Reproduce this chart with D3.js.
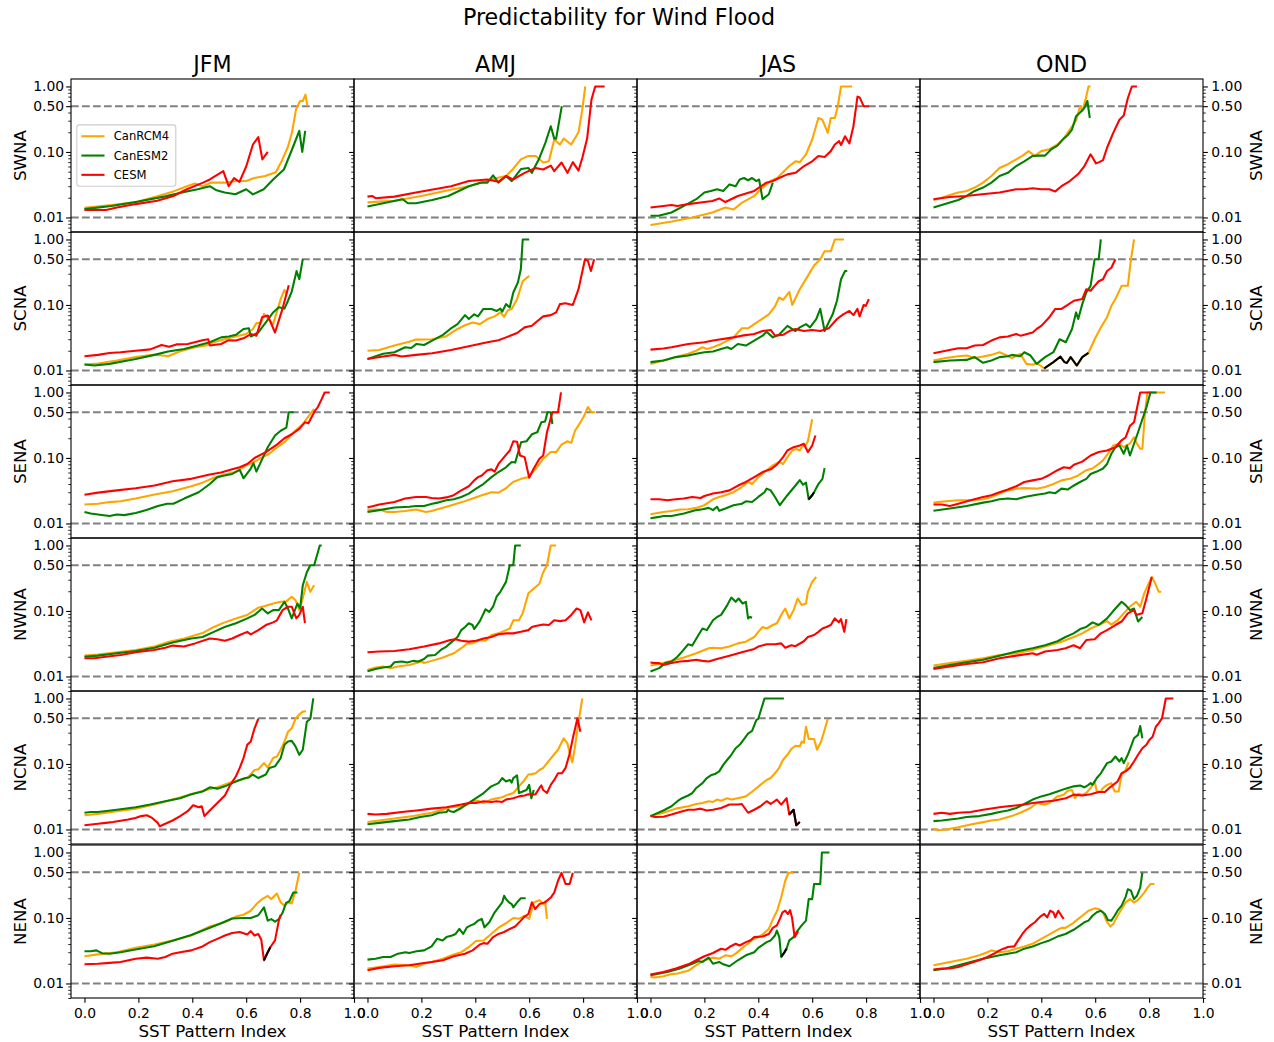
<!DOCTYPE html>
<html lang="en">
<head>
<meta charset="UTF-8">
<title>Predictability for Wind Flood</title>
<script src="https://cdn.jsdelivr.net/npm/d3@7"></script>
<style>
body { margin: 0; background: #fff; }
text { font-family: "DejaVu Sans", sans-serif; fill: #000; }
</style>
</head>
<body>
<svg id="chart" width="1274" height="1042"></svg>
<script>

// ---- labels / ticks ----
const seasons = ["JFM", "AMJ", "JAS", "OND"];
const regions = ["SWNA", "SCNA", "SENA", "NWNA", "NCNA", "NENA"];
const models = ["CanRCM4", "CanESM2", "CESM"];
const modelColors = ["orange", "green", "red"];
const yTicks = [0.01, 0.1, 0.5, 1.0];
const xTicks = [0, 0.2, 0.4, 0.6, 0.8, 1.0];
const refLevels = [0.01, 0.5];

// ---- SWNA ----
const swna_jfm_rcm4 = [[0,0.014],[0.1,0.0155],[0.19,0.017],[0.27,0.021],[0.33,0.025],[0.38,0.030],[0.41,0.033],[0.44,0.030],[0.47,0.034],[0.52,0.034],[0.56,0.036],[0.60,0.036],[0.63,0.040],[0.67,0.043],[0.71,0.049],[0.73,0.07],[0.755,0.12],[0.77,0.2],[0.785,0.45],[0.80,0.6],[0.81,0.6],[0.82,0.75],[0.827,0.5]];
const swna_jfm_esm2 = [[0,0.0134],[0.1,0.0150],[0.2,0.0175],[0.3,0.021],[0.37,0.0245],[0.42,0.027],[0.465,0.030],[0.49,0.026],[0.52,0.024],[0.56,0.0226],[0.6,0.027],[0.625,0.0225],[0.665,0.027],[0.70,0.038],[0.74,0.054],[0.77,0.109],[0.797,0.21],[0.808,0.10],[0.819,0.21]];
const swna_jfm_cesm = [[0,0.013],[0.08,0.013],[0.12,0.0142],[0.19,0.016],[0.27,0.018],[0.33,0.0213],[0.38,0.027],[0.44,0.034],[0.465,0.038],[0.515,0.051],[0.535,0.030],[0.555,0.040],[0.575,0.035],[0.60,0.06],[0.625,0.13],[0.645,0.168],[0.66,0.077],[0.68,0.1]];

const swna_amj_rcm4 = [[0,0.017],[0.1,0.018],[0.2,0.0213],[0.3,0.026],[0.376,0.030],[0.43,0.035],[0.48,0.040],[0.514,0.043],[0.54,0.055],[0.569,0.077],[0.597,0.087],[0.624,0.087],[0.652,0.069],[0.673,0.072],[0.693,0.155],[0.714,0.13],[0.728,0.16],[0.756,0.13],[0.783,0.2],[0.797,0.44],[0.808,1.0]];
const swna_amj_esm2 = [[0,0.0147],[0.13,0.019],[0.15,0.0165],[0.18,0.0165],[0.24,0.0185],[0.3,0.0213],[0.376,0.030],[0.42,0.034],[0.445,0.034],[0.466,0.044],[0.486,0.034],[0.514,0.043],[0.535,0.036],[0.57,0.055],[0.597,0.057],[0.61,0.048],[0.638,0.081],[0.66,0.138],[0.68,0.247],[0.693,0.16],[0.70,0.16],[0.721,0.5]];
const swna_amj_cesm = [[0,0.0208],[0.017,0.0213],[0.03,0.0197],[0.1,0.0208],[0.18,0.024],[0.31,0.030],[0.376,0.036],[0.445,0.038],[0.486,0.035],[0.514,0.043],[0.54,0.038],[0.583,0.048],[0.624,0.057],[0.652,0.054],[0.68,0.062],[0.693,0.051],[0.72,0.069],[0.742,0.048],[0.762,0.07],[0.783,0.052],[0.797,0.081],[0.815,0.16],[0.831,0.63],[0.845,1.0],[0.88,1.0]];

const swna_jas_rcm4 = [[0,0.0077],[0.08,0.0087],[0.155,0.01],[0.23,0.0119],[0.278,0.0142],[0.308,0.0132],[0.34,0.0169],[0.385,0.0213],[0.416,0.0286],[0.446,0.036],[0.47,0.040],[0.49,0.048],[0.515,0.061],[0.538,0.072],[0.554,0.07],[0.577,0.092],[0.60,0.155],[0.623,0.33],[0.638,0.31],[0.658,0.196],[0.669,0.33],[0.684,0.33],[0.695,0.5],[0.707,1.0],[0.748,1.0]];
const swna_jas_esm2 = [[0,0.0106],[0.03,0.0106],[0.078,0.0119],[0.124,0.015],[0.17,0.019],[0.2,0.024],[0.224,0.0254],[0.247,0.027],[0.27,0.0254],[0.293,0.032],[0.316,0.030],[0.331,0.038],[0.347,0.040],[0.362,0.037],[0.377,0.040],[0.393,0.036],[0.403,0.038],[0.416,0.019],[0.439,0.0226],[0.454,0.034]];
const swna_jas_cesm = [[0,0.0142],[0.048,0.015],[0.078,0.0155],[0.10,0.015],[0.14,0.016],[0.2,0.0172],[0.23,0.0179],[0.255,0.0195],[0.278,0.0172],[0.324,0.0213],[0.385,0.0254],[0.43,0.034],[0.454,0.036],[0.477,0.040],[0.508,0.0455],[0.538,0.048],[0.57,0.061],[0.60,0.072],[0.623,0.087],[0.646,0.084],[0.669,0.103],[0.684,0.13],[0.70,0.146],[0.707,0.128],[0.722,0.174],[0.738,0.135],[0.753,0.247],[0.768,0.70],[0.776,0.68],[0.791,0.5],[0.811,0.5]];

const swna_ond_rcm4 = [[0,0.0185],[0.031,0.020],[0.061,0.022],[0.092,0.024],[0.123,0.0254],[0.153,0.0286],[0.184,0.034],[0.215,0.043],[0.245,0.057],[0.276,0.065],[0.307,0.077],[0.33,0.087],[0.353,0.103],[0.376,0.087],[0.40,0.103],[0.43,0.11],[0.46,0.13],[0.483,0.16],[0.506,0.22],[0.529,0.30],[0.544,0.5],[0.552,0.42],[0.567,0.7],[0.575,1.0],[0.583,1.0]];
const swna_ond_esm2 = [[0,0.0142],[0.061,0.0169],[0.092,0.0185],[0.123,0.0213],[0.153,0.0254],[0.184,0.0286],[0.215,0.034],[0.245,0.043],[0.276,0.048],[0.307,0.061],[0.337,0.072],[0.368,0.087],[0.39,0.088],[0.414,0.088],[0.437,0.11],[0.46,0.125],[0.483,0.16],[0.498,0.18],[0.514,0.22],[0.529,0.35],[0.544,0.40],[0.56,0.47],[0.571,0.6],[0.58,0.33]];
const swna_ond_cesm = [[0,0.019],[0.06,0.0205],[0.12,0.0213],[0.18,0.0226],[0.245,0.024],[0.307,0.027],[0.337,0.027],[0.368,0.028],[0.40,0.027],[0.43,0.027],[0.452,0.025],[0.475,0.030],[0.506,0.036],[0.537,0.046],[0.56,0.061],[0.583,0.092],[0.603,0.067],[0.615,0.070],[0.629,0.075],[0.644,0.116],[0.667,0.196],[0.69,0.31],[0.706,0.36],[0.721,0.66],[0.736,1.0],[0.755,1.0]];

// ---- SCNA ----
const scna_jfm_rcm4 = [[0,0.0123],[0.05,0.0128],[0.12,0.0142],[0.19,0.016],[0.26,0.0175],[0.31,0.0165],[0.355,0.0197],[0.41,0.0226],[0.45,0.024],[0.48,0.027],[0.52,0.030],[0.56,0.033],[0.60,0.036],[0.625,0.043],[0.638,0.053],[0.655,0.053],[0.666,0.073],[0.70,0.051],[0.728,0.123],[0.742,0.17],[0.75,0.146]];
const scna_jfm_esm2 = [[0,0.0123],[0.037,0.0119],[0.093,0.0126],[0.19,0.015],[0.26,0.0173],[0.31,0.0195],[0.37,0.0213],[0.42,0.024],[0.465,0.027],[0.507,0.032],[0.535,0.033],[0.562,0.035],[0.59,0.043],[0.61,0.044],[0.617,0.033],[0.645,0.038],[0.673,0.054],[0.70,0.077],[0.721,0.092],[0.742,0.088],[0.755,0.116],[0.769,0.16],[0.787,0.33],[0.797,0.247],[0.81,0.5]];
const scna_jfm_cesm = [[0,0.0165],[0.05,0.0173],[0.093,0.0185],[0.134,0.019],[0.19,0.020],[0.244,0.021],[0.286,0.0245],[0.314,0.023],[0.341,0.025],[0.383,0.0254],[0.438,0.029],[0.459,0.030],[0.465,0.024],[0.507,0.0254],[0.535,0.029],[0.562,0.0286],[0.59,0.031],[0.617,0.036],[0.638,0.034],[0.659,0.065],[0.68,0.069],[0.707,0.038],[0.735,0.088],[0.758,0.2]];

const scna_amj_rcm4 = [[0,0.020],[0.044,0.0205],[0.1,0.024],[0.155,0.0275],[0.18,0.0296],[0.24,0.030],[0.29,0.033],[0.334,0.043],[0.362,0.049],[0.39,0.054],[0.417,0.051],[0.445,0.061],[0.472,0.067],[0.493,0.077],[0.507,0.066],[0.521,0.083],[0.535,0.087],[0.555,0.123],[0.576,0.23],[0.60,0.278]];
const scna_amj_esm2 = [[0,0.015],[0.058,0.018],[0.1,0.019],[0.14,0.0226],[0.162,0.022],[0.182,0.0254],[0.21,0.0245],[0.24,0.0286],[0.28,0.035],[0.307,0.043],[0.334,0.051],[0.362,0.070],[0.376,0.061],[0.396,0.072],[0.41,0.067],[0.43,0.087],[0.46,0.087],[0.48,0.081],[0.493,0.088],[0.50,0.079],[0.514,0.103],[0.528,0.092],[0.541,0.155],[0.558,0.22],[0.569,0.35],[0.576,1.0],[0.60,1.0]];
const scna_amj_cesm = [[0,0.015],[0.058,0.0163],[0.1,0.0173],[0.127,0.0163],[0.18,0.0173],[0.24,0.0183],[0.31,0.0206],[0.376,0.0234],[0.445,0.027],[0.486,0.029],[0.514,0.032],[0.555,0.0373],[0.583,0.0455],[0.61,0.048],[0.624,0.054],[0.652,0.067],[0.68,0.07],[0.70,0.077],[0.714,0.103],[0.735,0.106],[0.762,0.10],[0.783,0.174],[0.807,0.5],[0.818,0.47],[0.829,0.33],[0.841,0.5]];

const scna_jas_rcm4 = [[0,0.0126],[0.048,0.0142],[0.094,0.016],[0.14,0.018],[0.17,0.020],[0.193,0.0226],[0.209,0.0213],[0.232,0.0226],[0.262,0.0254],[0.308,0.032],[0.339,0.044],[0.362,0.044],[0.385,0.051],[0.416,0.062],[0.439,0.072],[0.462,0.095],[0.477,0.13],[0.492,0.12],[0.515,0.159],[0.526,0.10],[0.554,0.174],[0.584,0.278],[0.607,0.40],[0.63,0.5],[0.646,0.66],[0.669,0.66],[0.684,1.0],[0.718,1.0]];
const scna_jas_esm2 = [[0,0.0134],[0.048,0.0142],[0.094,0.016],[0.14,0.0169],[0.17,0.018],[0.2,0.019],[0.232,0.0195],[0.262,0.0213],[0.285,0.0226],[0.30,0.0213],[0.324,0.0254],[0.354,0.024],[0.385,0.0286],[0.416,0.034],[0.431,0.039],[0.454,0.032],[0.477,0.035],[0.508,0.048],[0.538,0.040],[0.554,0.0455],[0.577,0.051],[0.592,0.0455],[0.615,0.061],[0.63,0.087],[0.646,0.040],[0.661,0.054],[0.676,0.072],[0.692,0.116],[0.707,0.247],[0.722,0.33],[0.73,0.33]];
const scna_jas_cesm = [[0,0.0208],[0.048,0.0216],[0.078,0.0226],[0.14,0.0254],[0.2,0.027],[0.232,0.0286],[0.308,0.032],[0.339,0.034],[0.385,0.036],[0.416,0.040],[0.446,0.0415],[0.462,0.034],[0.492,0.035],[0.515,0.040],[0.538,0.043],[0.569,0.040],[0.60,0.0415],[0.63,0.040],[0.661,0.044],[0.692,0.061],[0.715,0.072],[0.738,0.081],[0.753,0.07],[0.768,0.087],[0.776,0.067],[0.791,0.10],[0.799,0.097],[0.81,0.123]];

const scna_ond_rcm4 = [[0,0.0142],[0.046,0.0155],[0.092,0.0165],[0.123,0.0169],[0.153,0.0155],[0.184,0.0163],[0.215,0.0173],[0.245,0.019],[0.268,0.0173],[0.291,0.0155],[0.322,0.0179],[0.345,0.0126],[0.368,0.0122],[0.383,0.013],[0.40,0.0116],[0.411,0.0108],[0.445,0.0134],[0.471,0.0163],[0.486,0.0134],[0.495,0.013],[0.509,0.016],[0.532,0.0119],[0.552,0.016],[0.575,0.0185],[0.598,0.030],[0.621,0.0455],[0.644,0.065],[0.66,0.097],[0.675,0.123],[0.698,0.196],[0.721,0.196],[0.733,0.5],[0.744,1.0]];
const scna_ond_esm2 = [[0,0.0134],[0.061,0.0142],[0.123,0.0145],[0.153,0.016],[0.184,0.0131],[0.215,0.0142],[0.245,0.016],[0.276,0.0165],[0.291,0.0173],[0.322,0.0165],[0.337,0.019],[0.36,0.0169],[0.383,0.0126],[0.414,0.016],[0.445,0.019],[0.468,0.030],[0.491,0.027],[0.514,0.043],[0.529,0.077],[0.537,0.061],[0.552,0.103],[0.567,0.155],[0.583,0.196],[0.598,0.5],[0.613,0.5],[0.621,1.0]];
const scna_ond_cesm = [[0,0.0183],[0.046,0.020],[0.092,0.0218],[0.123,0.0218],[0.153,0.024],[0.184,0.0245],[0.215,0.0286],[0.245,0.032],[0.276,0.033],[0.307,0.036],[0.322,0.034],[0.337,0.035],[0.368,0.038],[0.383,0.043],[0.40,0.048],[0.43,0.065],[0.452,0.087],[0.475,0.087],[0.498,0.10],[0.521,0.116],[0.552,0.123],[0.567,0.174],[0.583,0.165],[0.598,0.196],[0.613,0.23],[0.629,0.247],[0.644,0.33],[0.66,0.37],[0.675,0.5]];
const scna_ond_black = [[0.411,0.0108],[0.445,0.0134],[0.471,0.0163],[0.486,0.0134],[0.495,0.013],[0.509,0.016],[0.532,0.0119],[0.552,0.016],[0.575,0.0185]];

// ---- SENA ----
const sena_jfm_rcm4 = [[0,0.0195],[0.05,0.020],[0.093,0.0212],[0.134,0.0218],[0.19,0.024],[0.26,0.0276],[0.327,0.031],[0.396,0.037],[0.438,0.042],[0.48,0.050],[0.52,0.056],[0.56,0.061],[0.60,0.077],[0.63,0.087],[0.66,0.103],[0.686,0.116],[0.707,0.138],[0.742,0.174],[0.776,0.247],[0.81,0.33],[0.838,0.47],[0.852,0.56]];
const sena_jfm_esm2 = [[0,0.015],[0.023,0.0142],[0.05,0.0137],[0.093,0.013],[0.12,0.0137],[0.148,0.0134],[0.19,0.0145],[0.23,0.016],[0.272,0.0185],[0.307,0.020],[0.33,0.020],[0.37,0.024],[0.424,0.030],[0.465,0.040],[0.493,0.051],[0.52,0.054],[0.548,0.057],[0.576,0.066],[0.59,0.049],[0.617,0.069],[0.627,0.083],[0.638,0.062],[0.659,0.095],[0.68,0.146],[0.707,0.22],[0.728,0.26],[0.749,0.29],[0.758,0.5],[0.776,0.5]];
const sena_jfm_cesm = [[0,0.0275],[0.05,0.0296],[0.12,0.032],[0.19,0.0345],[0.26,0.038],[0.327,0.044],[0.396,0.048],[0.465,0.056],[0.507,0.060],[0.548,0.067],[0.576,0.072],[0.604,0.081],[0.631,0.10],[0.673,0.123],[0.714,0.16],[0.742,0.20],[0.769,0.23],[0.797,0.278],[0.818,0.35],[0.831,0.34],[0.852,0.5],[0.866,0.6],[0.88,0.79],[0.891,1.0],[0.91,1.0]];

const sena_amj_rcm4 = [[0,0.016],[0.044,0.0163],[0.072,0.015],[0.1,0.015],[0.14,0.0155],[0.18,0.0163],[0.217,0.015],[0.238,0.0155],[0.293,0.018],[0.348,0.021],[0.39,0.024],[0.43,0.0275],[0.46,0.030],[0.486,0.0296],[0.514,0.0345],[0.54,0.043],[0.57,0.048],[0.597,0.051],[0.624,0.069],[0.652,0.097],[0.68,0.123],[0.70,0.123],[0.72,0.16],[0.742,0.18],[0.756,0.17],[0.77,0.26],[0.79,0.35],[0.804,0.44],[0.818,0.6],[0.831,0.5],[0.845,0.5]];
const sena_amj_esm2 = [[0,0.015],[0.044,0.016],[0.1,0.0175],[0.155,0.018],[0.18,0.0185],[0.21,0.0185],[0.24,0.020],[0.265,0.021],[0.293,0.0226],[0.32,0.0234],[0.348,0.0254],[0.376,0.0286],[0.403,0.034],[0.43,0.040],[0.46,0.051],[0.486,0.061],[0.514,0.072],[0.535,0.087],[0.548,0.085],[0.57,0.174],[0.59,0.18],[0.61,0.23],[0.63,0.247],[0.645,0.35],[0.659,0.36],[0.668,0.5],[0.68,0.5],[0.686,0.33]];
const sena_amj_cesm = [[0,0.0175],[0.044,0.0195],[0.1,0.0213],[0.14,0.024],[0.18,0.0254],[0.217,0.0254],[0.238,0.0245],[0.265,0.024],[0.293,0.025],[0.32,0.027],[0.348,0.032],[0.376,0.037],[0.396,0.0455],[0.41,0.051],[0.424,0.054],[0.438,0.061],[0.445,0.065],[0.46,0.067],[0.472,0.062],[0.486,0.081],[0.507,0.103],[0.528,0.13],[0.541,0.18],[0.555,0.177],[0.566,0.109],[0.583,0.103],[0.60,0.05],[0.617,0.069],[0.638,0.097],[0.652,0.109],[0.666,0.247],[0.686,0.5],[0.707,0.5],[0.718,1.0]];

const sena_jas_rcm4 = [[0,0.0138],[0.048,0.015],[0.078,0.0155],[0.11,0.0163],[0.14,0.0165],[0.17,0.0173],[0.2,0.019],[0.232,0.0234],[0.255,0.0254],[0.278,0.027],[0.308,0.030],[0.339,0.036],[0.362,0.043],[0.377,0.040],[0.40,0.051],[0.423,0.061],[0.454,0.077],[0.477,0.087],[0.492,0.081],[0.508,0.103],[0.526,0.13],[0.538,0.138],[0.554,0.13],[0.561,0.146],[0.577,0.16],[0.584,0.18],[0.60,0.39]];
const sena_jas_esm2 = [[0,0.012],[0.032,0.0126],[0.048,0.013],[0.078,0.013],[0.124,0.0142],[0.17,0.016],[0.193,0.0165],[0.216,0.0173],[0.232,0.016],[0.247,0.018],[0.255,0.0156],[0.278,0.0169],[0.308,0.019],[0.339,0.020],[0.354,0.0218],[0.377,0.0213],[0.40,0.0254],[0.423,0.030],[0.431,0.034],[0.446,0.032],[0.462,0.0254],[0.48,0.019],[0.508,0.027],[0.538,0.038],[0.554,0.046],[0.566,0.039],[0.577,0.042],[0.587,0.0234],[0.60,0.027],[0.607,0.030],[0.623,0.040],[0.638,0.048],[0.646,0.07]];
const sena_jas_cesm = [[0,0.0234],[0.032,0.0234],[0.063,0.0226],[0.094,0.0234],[0.124,0.024],[0.155,0.0254],[0.186,0.0245],[0.2,0.0263],[0.232,0.0286],[0.262,0.030],[0.293,0.032],[0.308,0.0346],[0.331,0.039],[0.354,0.043],[0.385,0.051],[0.416,0.061],[0.446,0.067],[0.469,0.079],[0.492,0.103],[0.508,0.13],[0.531,0.146],[0.554,0.155],[0.569,0.165],[0.584,0.123],[0.60,0.155],[0.612,0.22]];
const sena_jas_black = [[0.587,0.0234],[0.60,0.027],[0.607,0.030]];

const sena_ond_rcm4 = [[0,0.0208],[0.046,0.0218],[0.092,0.0226],[0.138,0.0226],[0.184,0.0234],[0.215,0.0254],[0.245,0.0286],[0.276,0.032],[0.307,0.034],[0.337,0.0346],[0.383,0.034],[0.414,0.036],[0.445,0.040],[0.475,0.0455],[0.506,0.048],[0.537,0.054],[0.567,0.065],[0.59,0.069],[0.613,0.081],[0.629,0.092],[0.652,0.123],[0.667,0.155],[0.69,0.165],[0.706,0.146],[0.728,0.165],[0.744,0.206],[0.755,0.165],[0.767,0.138],[0.775,0.138],[0.785,0.5],[0.794,1.0],[0.859,1.0]];
const sena_ond_esm2 = [[0,0.0156],[0.061,0.0169],[0.123,0.0185],[0.184,0.0208],[0.215,0.0218],[0.245,0.0234],[0.276,0.024],[0.307,0.0234],[0.337,0.0254],[0.383,0.0275],[0.414,0.0286],[0.43,0.030],[0.452,0.029],[0.475,0.034],[0.498,0.033],[0.521,0.038],[0.544,0.043],[0.567,0.048],[0.583,0.057],[0.606,0.062],[0.629,0.069],[0.644,0.081],[0.66,0.116],[0.675,0.146],[0.69,0.155],[0.706,0.116],[0.718,0.155],[0.729,0.109],[0.744,0.165],[0.759,0.247],[0.775,0.39],[0.79,0.59],[0.805,1.0],[0.828,1.0]];
const sena_ond_cesm = [[0,0.0195],[0.031,0.0195],[0.061,0.0185],[0.092,0.020],[0.138,0.0226],[0.184,0.0254],[0.215,0.027],[0.245,0.030],[0.276,0.033],[0.307,0.037],[0.337,0.043],[0.368,0.0455],[0.40,0.048],[0.43,0.055],[0.46,0.065],[0.483,0.072],[0.506,0.070],[0.521,0.079],[0.552,0.088],[0.583,0.109],[0.613,0.123],[0.644,0.13],[0.675,0.146],[0.698,0.186],[0.713,0.206],[0.729,0.31],[0.744,0.35],[0.752,0.5],[0.767,1.0],[0.805,1.0]];

// ---- NWNA ----
const nwna_jfm_rcm4 = [[0,0.0208],[0.05,0.0216],[0.12,0.0234],[0.19,0.0254],[0.26,0.0286],[0.314,0.034],[0.37,0.038],[0.438,0.046],[0.48,0.057],[0.52,0.067],[0.562,0.077],[0.604,0.087],[0.645,0.112],[0.673,0.12],[0.70,0.13],[0.728,0.138],[0.749,0.14],[0.769,0.165],[0.783,0.146],[0.797,0.103],[0.808,0.146],[0.825,0.278],[0.838,0.196],[0.852,0.247]];
const nwna_jfm_esm2 = [[0,0.020],[0.05,0.0208],[0.12,0.0226],[0.19,0.0245],[0.26,0.0275],[0.327,0.033],[0.396,0.038],[0.438,0.040],[0.48,0.048],[0.52,0.057],[0.562,0.065],[0.604,0.077],[0.631,0.087],[0.659,0.109],[0.68,0.092],[0.70,0.103],[0.721,0.103],[0.742,0.138],[0.755,0.109],[0.769,0.077],[0.79,0.13],[0.80,0.11],[0.81,0.247],[0.825,0.39],[0.838,0.5],[0.852,0.5],[0.866,0.79],[0.873,1.0],[0.88,1.0]];
const nwna_jfm_cesm = [[0,0.019],[0.037,0.019],[0.079,0.020],[0.134,0.0213],[0.19,0.0234],[0.258,0.0254],[0.30,0.0275],[0.327,0.0296],[0.369,0.0286],[0.41,0.032],[0.465,0.038],[0.493,0.037],[0.521,0.035],[0.548,0.038],[0.576,0.043],[0.604,0.048],[0.617,0.044],[0.645,0.051],[0.673,0.061],[0.70,0.067],[0.714,0.072],[0.735,0.103],[0.755,0.116],[0.769,0.116],[0.786,0.077],[0.797,0.087],[0.81,0.116],[0.818,0.065]];

const nwna_amj_rcm4 = [[0,0.0126],[0.03,0.0137],[0.058,0.0142],[0.086,0.0134],[0.113,0.0142],[0.155,0.015],[0.182,0.016],[0.203,0.0169],[0.21,0.016],[0.238,0.0173],[0.28,0.0195],[0.32,0.0226],[0.348,0.027],[0.37,0.032],[0.39,0.032],[0.417,0.036],[0.438,0.035],[0.46,0.043],[0.486,0.0455],[0.514,0.051],[0.528,0.054],[0.541,0.072],[0.562,0.072],[0.576,0.092],[0.597,0.186],[0.617,0.22],[0.638,0.26],[0.652,0.39],[0.666,0.5],[0.68,1.0],[0.70,1.0]];
const nwna_amj_esm2 = [[0,0.012],[0.03,0.013],[0.058,0.0137],[0.086,0.0142],[0.10,0.0165],[0.127,0.0169],[0.148,0.0163],[0.169,0.0173],[0.189,0.0169],[0.21,0.0185],[0.224,0.0208],[0.251,0.0213],[0.272,0.0254],[0.293,0.0286],[0.314,0.034],[0.334,0.040],[0.348,0.051],[0.362,0.057],[0.376,0.065],[0.39,0.061],[0.396,0.053],[0.417,0.07],[0.438,0.106],[0.452,0.097],[0.466,0.116],[0.479,0.165],[0.493,0.196],[0.514,0.278],[0.528,0.5],[0.541,0.5],[0.548,1.0],[0.569,1.0]];
const nwna_amj_cesm = [[0,0.0234],[0.044,0.024],[0.1,0.0245],[0.155,0.026],[0.21,0.0286],[0.265,0.032],[0.307,0.036],[0.327,0.037],[0.348,0.035],[0.376,0.034],[0.403,0.035],[0.431,0.038],[0.459,0.040],[0.486,0.044],[0.514,0.0455],[0.541,0.0455],[0.569,0.048],[0.597,0.051],[0.61,0.057],[0.624,0.059],[0.652,0.062],[0.673,0.061],[0.693,0.072],[0.714,0.07],[0.735,0.072],[0.756,0.087],[0.776,0.109],[0.79,0.103],[0.804,0.067],[0.818,0.095],[0.831,0.072]];

const nwna_jas_rcm4 = [[0,0.0147],[0.032,0.0155],[0.078,0.0173],[0.124,0.0195],[0.17,0.0226],[0.216,0.027],[0.232,0.0275],[0.262,0.027],[0.293,0.0286],[0.324,0.032],[0.354,0.034],[0.385,0.040],[0.40,0.048],[0.416,0.057],[0.431,0.054],[0.454,0.061],[0.469,0.065],[0.485,0.087],[0.50,0.109],[0.515,0.077],[0.531,0.103],[0.546,0.155],[0.561,0.123],[0.577,0.13],[0.584,0.196],[0.60,0.278],[0.615,0.33]];
const nwna_jas_esm2 = [[0,0.0119],[0.032,0.0134],[0.055,0.016],[0.078,0.0169],[0.10,0.020],[0.117,0.024],[0.14,0.031],[0.155,0.0296],[0.178,0.043],[0.193,0.054],[0.209,0.051],[0.232,0.072],[0.247,0.081],[0.262,0.087],[0.285,0.123],[0.30,0.16],[0.316,0.138],[0.327,0.155],[0.342,0.13],[0.354,0.138],[0.362,0.077],[0.37,0.081],[0.377,0.079]];
const nwna_jas_cesm = [[0,0.0163],[0.017,0.016],[0.032,0.016],[0.048,0.015],[0.078,0.016],[0.109,0.0169],[0.14,0.0173],[0.17,0.018],[0.193,0.0173],[0.216,0.0169],[0.247,0.0185],[0.293,0.0208],[0.339,0.0234],[0.385,0.0263],[0.40,0.0286],[0.431,0.031],[0.462,0.031],[0.485,0.032],[0.50,0.0275],[0.523,0.030],[0.538,0.029],[0.569,0.0345],[0.584,0.040],[0.607,0.043],[0.623,0.048],[0.638,0.054],[0.653,0.057],[0.669,0.061],[0.684,0.077],[0.699,0.067],[0.707,0.075],[0.719,0.048],[0.727,0.075]];

const nwna_ond_rcm4 = [[0,0.0147],[0.061,0.016],[0.123,0.0173],[0.184,0.019],[0.245,0.0213],[0.307,0.0226],[0.368,0.0254],[0.43,0.030],[0.475,0.034],[0.521,0.040],[0.552,0.0455],[0.583,0.054],[0.613,0.061],[0.644,0.07],[0.66,0.062],[0.683,0.072],[0.706,0.092],[0.728,0.116],[0.752,0.138],[0.767,0.116],[0.782,0.186],[0.798,0.26],[0.81,0.33],[0.82,0.278],[0.836,0.196],[0.845,0.196]];
const nwna_ond_esm2 = [[0,0.0134],[0.061,0.015],[0.123,0.0165],[0.184,0.018],[0.245,0.0208],[0.307,0.024],[0.368,0.027],[0.414,0.030],[0.46,0.0345],[0.49,0.040],[0.52,0.0455],[0.544,0.053],[0.567,0.057],[0.59,0.067],[0.613,0.061],[0.644,0.077],[0.675,0.109],[0.698,0.138],[0.713,0.123],[0.729,0.103],[0.744,0.109],[0.759,0.069],[0.775,0.081]];
const nwna_ond_cesm = [[0,0.013],[0.061,0.0142],[0.123,0.0155],[0.184,0.0165],[0.245,0.019],[0.307,0.0208],[0.368,0.0226],[0.383,0.0215],[0.414,0.024],[0.46,0.0254],[0.49,0.027],[0.52,0.030],[0.544,0.027],[0.567,0.036],[0.598,0.037],[0.621,0.0455],[0.644,0.051],[0.675,0.061],[0.698,0.069],[0.721,0.092],[0.744,0.103],[0.752,0.087],[0.775,0.092],[0.79,0.155],[0.81,0.33]];

// ---- NCNA ----
const ncna_jfm_rcm4 = [[0,0.0165],[0.05,0.0173],[0.12,0.019],[0.19,0.0208],[0.26,0.024],[0.327,0.0286],[0.396,0.0346],[0.452,0.040],[0.493,0.044],[0.535,0.051],[0.576,0.057],[0.604,0.061],[0.617,0.07],[0.631,0.081],[0.645,0.083],[0.666,0.103],[0.68,0.088],[0.70,0.123],[0.714,0.13],[0.728,0.165],[0.742,0.22],[0.755,0.31],[0.769,0.35],[0.783,0.49],[0.797,0.57],[0.81,0.63],[0.822,0.64]];
const ncna_jfm_esm2 = [[0,0.018],[0.023,0.0185],[0.05,0.0185],[0.12,0.020],[0.19,0.0218],[0.244,0.024],[0.30,0.027],[0.355,0.030],[0.396,0.0346],[0.438,0.038],[0.465,0.044],[0.493,0.042],[0.521,0.0455],[0.548,0.051],[0.576,0.057],[0.597,0.061],[0.61,0.062],[0.624,0.069],[0.645,0.061],[0.673,0.069],[0.686,0.087],[0.707,0.092],[0.728,0.123],[0.742,0.196],[0.755,0.22],[0.769,0.225],[0.783,0.186],[0.797,0.138],[0.81,0.165],[0.825,0.44],[0.838,0.49],[0.849,1.0]];
const ncna_jfm_cesm = [[0,0.0116],[0.05,0.0122],[0.079,0.0126],[0.106,0.013],[0.162,0.0142],[0.189,0.015],[0.21,0.016],[0.231,0.0165],[0.251,0.015],[0.272,0.0126],[0.279,0.0112],[0.30,0.0122],[0.327,0.0137],[0.355,0.016],[0.383,0.019],[0.403,0.0234],[0.424,0.0218],[0.435,0.0226],[0.445,0.016],[0.465,0.0195],[0.493,0.0254],[0.521,0.033],[0.541,0.048],[0.562,0.065],[0.576,0.087],[0.59,0.123],[0.604,0.196],[0.617,0.22],[0.631,0.35],[0.645,0.49]];

const ncna_amj_rcm4 = [[0,0.013],[0.044,0.0137],[0.1,0.0147],[0.169,0.016],[0.238,0.018],[0.28,0.020],[0.307,0.0218],[0.348,0.0226],[0.37,0.024],[0.39,0.027],[0.41,0.0275],[0.431,0.0254],[0.459,0.0286],[0.48,0.030],[0.50,0.031],[0.521,0.034],[0.541,0.036],[0.562,0.0455],[0.583,0.057],[0.597,0.069],[0.61,0.07],[0.624,0.072],[0.638,0.081],[0.652,0.087],[0.666,0.103],[0.686,0.13],[0.707,0.165],[0.728,0.247],[0.742,0.206],[0.749,0.155],[0.76,0.106],[0.769,0.174],[0.783,0.44],[0.797,1.0]];
const ncna_amj_esm2 = [[0,0.012],[0.044,0.0126],[0.1,0.0134],[0.155,0.0142],[0.196,0.0155],[0.238,0.0165],[0.265,0.018],[0.293,0.0185],[0.30,0.020],[0.307,0.019],[0.32,0.0185],[0.348,0.0213],[0.376,0.0254],[0.403,0.030],[0.431,0.036],[0.459,0.0455],[0.472,0.048],[0.486,0.051],[0.50,0.061],[0.514,0.054],[0.528,0.057],[0.535,0.052],[0.541,0.061],[0.555,0.067],[0.562,0.036],[0.576,0.038],[0.59,0.040],[0.60,0.048],[0.608,0.030],[0.617,0.040]];
const ncna_amj_cesm = [[0,0.0173],[0.03,0.0169],[0.072,0.0173],[0.127,0.0185],[0.182,0.0195],[0.238,0.0208],[0.293,0.0218],[0.348,0.024],[0.376,0.0254],[0.403,0.0254],[0.431,0.027],[0.459,0.0263],[0.479,0.027],[0.50,0.0263],[0.514,0.0286],[0.541,0.030],[0.562,0.032],[0.583,0.033],[0.597,0.0346],[0.61,0.034],[0.624,0.0346],[0.638,0.043],[0.645,0.047],[0.652,0.040],[0.666,0.036],[0.68,0.048],[0.693,0.057],[0.707,0.072],[0.721,0.072],[0.735,0.087],[0.749,0.138],[0.762,0.247],[0.779,0.5],[0.79,0.31]];

const ncna_jas_rcm4 = [[0,0.016],[0.048,0.018],[0.094,0.0208],[0.14,0.0226],[0.17,0.0245],[0.193,0.0254],[0.216,0.027],[0.232,0.0263],[0.247,0.0286],[0.262,0.0275],[0.285,0.030],[0.30,0.0286],[0.324,0.030],[0.354,0.032],[0.385,0.040],[0.408,0.048],[0.431,0.057],[0.446,0.061],[0.462,0.072],[0.477,0.087],[0.492,0.116],[0.508,0.138],[0.523,0.17],[0.538,0.19],[0.554,0.186],[0.561,0.22],[0.569,0.21],[0.577,0.37],[0.587,0.24],[0.607,0.24],[0.618,0.165],[0.633,0.22],[0.646,0.33],[0.658,0.49]];
const ncna_jas_esm2 = [[0,0.016],[0.048,0.0195],[0.078,0.0226],[0.10,0.027],[0.117,0.030],[0.14,0.033],[0.155,0.036],[0.17,0.043],[0.193,0.051],[0.209,0.061],[0.224,0.067],[0.239,0.07],[0.255,0.077],[0.27,0.097],[0.285,0.116],[0.30,0.138],[0.316,0.174],[0.331,0.196],[0.347,0.24],[0.362,0.29],[0.377,0.32],[0.393,0.47],[0.40,0.49],[0.423,1.0],[0.495,1.0]];
const ncna_jas_cesm = [[0,0.016],[0.017,0.0155],[0.048,0.0156],[0.078,0.0169],[0.109,0.0185],[0.14,0.020],[0.163,0.020],[0.186,0.0208],[0.209,0.0195],[0.232,0.020],[0.262,0.0213],[0.293,0.024],[0.324,0.024],[0.339,0.0245],[0.362,0.018],[0.385,0.020],[0.408,0.0226],[0.431,0.027],[0.446,0.0245],[0.469,0.0286],[0.485,0.024],[0.505,0.030],[0.515,0.0169],[0.531,0.020],[0.541,0.0116],[0.554,0.013]];
const ncna_jas_black = [[0.515,0.0169],[0.531,0.020],[0.541,0.0116],[0.554,0.013]];

const ncna_ond_rcm4 = [[0,0.0104],[0.015,0.0097],[0.046,0.010],[0.092,0.0108],[0.138,0.0119],[0.17,0.0126],[0.215,0.0137],[0.245,0.0142],[0.29,0.016],[0.322,0.018],[0.36,0.0213],[0.383,0.0254],[0.40,0.0245],[0.414,0.024],[0.43,0.0254],[0.445,0.0286],[0.46,0.032],[0.483,0.034],[0.498,0.039],[0.514,0.040],[0.525,0.030],[0.537,0.035],[0.552,0.034],[0.567,0.036],[0.583,0.043],[0.598,0.054],[0.606,0.038],[0.621,0.038],[0.629,0.043],[0.644,0.048],[0.66,0.051],[0.672,0.038],[0.687,0.038],[0.698,0.069],[0.713,0.081],[0.724,0.106]];
const ncna_ond_esm2 = [[0,0.0134],[0.031,0.0137],[0.061,0.0142],[0.092,0.0147],[0.123,0.0155],[0.17,0.016],[0.215,0.0173],[0.245,0.0185],[0.276,0.0195],[0.307,0.0213],[0.337,0.0245],[0.368,0.0286],[0.40,0.032],[0.43,0.0346],[0.46,0.038],[0.49,0.042],[0.521,0.0455],[0.544,0.047],[0.56,0.044],[0.575,0.048],[0.583,0.051],[0.59,0.048],[0.606,0.061],[0.621,0.072],[0.644,0.103],[0.66,0.109],[0.675,0.13],[0.69,0.109],[0.698,0.123],[0.706,0.103],[0.721,0.138],[0.733,0.186],[0.744,0.247],[0.759,0.278],[0.767,0.38],[0.775,0.247]];
const ncna_ond_cesm = [[0,0.0173],[0.031,0.018],[0.061,0.0173],[0.092,0.018],[0.138,0.0185],[0.184,0.020],[0.245,0.0218],[0.276,0.0226],[0.337,0.024],[0.368,0.0254],[0.40,0.0263],[0.445,0.0275],[0.491,0.030],[0.521,0.034],[0.552,0.033],[0.583,0.0346],[0.613,0.0373],[0.636,0.0373],[0.652,0.043],[0.667,0.048],[0.683,0.054],[0.698,0.072],[0.713,0.077],[0.729,0.088],[0.744,0.109],[0.759,0.138],[0.775,0.174],[0.79,0.196],[0.80,0.23],[0.813,0.26],[0.825,0.37],[0.836,0.42],[0.848,0.5],[0.862,1.0],[0.89,1.0]];

// ---- NENA ----
const nena_jfm_rcm4 = [[0,0.026],[0.05,0.0278],[0.12,0.030],[0.19,0.035],[0.26,0.0394],[0.327,0.0454],[0.396,0.054],[0.465,0.074],[0.52,0.086],[0.562,0.105],[0.59,0.112],[0.617,0.129],[0.638,0.163],[0.659,0.194],[0.68,0.217],[0.693,0.194],[0.714,0.236],[0.728,0.173],[0.742,0.154],[0.755,0.173],[0.769,0.167],[0.783,0.26],[0.797,0.49]];
const nena_jfm_esm2 = [[0,0.031],[0.023,0.031],[0.044,0.032],[0.065,0.029],[0.093,0.0285],[0.134,0.030],[0.189,0.033],[0.258,0.037],[0.327,0.045],[0.396,0.055],[0.465,0.071],[0.507,0.083],[0.548,0.098],[0.59,0.10],[0.617,0.10],[0.645,0.11],[0.666,0.145],[0.68,0.091],[0.693,0.096],[0.707,0.088],[0.72,0.095],[0.735,0.12],[0.748,0.17],[0.76,0.18],[0.775,0.245],[0.79,0.245]];
const nena_jfm_cesm = [[0,0.0196],[0.05,0.020],[0.093,0.0206],[0.134,0.0213],[0.19,0.0239],[0.23,0.0248],[0.272,0.0239],[0.30,0.0254],[0.327,0.0285],[0.355,0.030],[0.396,0.032],[0.438,0.0368],[0.465,0.0428],[0.493,0.048],[0.521,0.054],[0.548,0.059],[0.576,0.061],[0.604,0.056],[0.617,0.063],[0.631,0.054],[0.645,0.057],[0.656,0.0465],[0.666,0.0226],[0.68,0.030],[0.69,0.036],[0.707,0.0454],[0.721,0.091],[0.728,0.112]];
const nena_jfm_black = [[0.666,0.0226],[0.68,0.030],[0.69,0.036]];

const nena_amj_rcm4 = [[0,0.0169],[0.044,0.0179],[0.1,0.0194],[0.155,0.019],[0.182,0.0179],[0.21,0.020],[0.238,0.0213],[0.28,0.0239],[0.32,0.0278],[0.348,0.030],[0.376,0.036],[0.403,0.0444],[0.431,0.0454],[0.459,0.057],[0.486,0.071],[0.514,0.083],[0.541,0.10],[0.562,0.097],[0.583,0.108],[0.60,0.097],[0.617,0.173],[0.638,0.187],[0.652,0.163],[0.659,0.179],[0.666,0.097]];
const nena_amj_esm2 = [[0,0.0231],[0.03,0.0239],[0.058,0.0254],[0.086,0.0254],[0.113,0.0285],[0.141,0.030],[0.155,0.0292],[0.182,0.031],[0.21,0.032],[0.238,0.0368],[0.258,0.048],[0.279,0.0454],[0.293,0.051],[0.314,0.054],[0.327,0.057],[0.341,0.068],[0.355,0.057],[0.369,0.072],[0.383,0.077],[0.396,0.081],[0.41,0.091],[0.424,0.097],[0.434,0.072],[0.452,0.086],[0.459,0.097],[0.472,0.122],[0.486,0.145],[0.50,0.173],[0.507,0.218],[0.514,0.194],[0.525,0.173],[0.535,0.163],[0.541,0.145],[0.555,0.173],[0.569,0.2],[0.587,0.2]];
const nena_amj_cesm = [[0,0.0159],[0.044,0.0173],[0.1,0.0183],[0.155,0.019],[0.21,0.0206],[0.238,0.0213],[0.28,0.0226],[0.32,0.026],[0.362,0.0285],[0.39,0.032],[0.417,0.0394],[0.431,0.0413],[0.445,0.0404],[0.466,0.051],[0.486,0.057],[0.507,0.061],[0.528,0.068],[0.548,0.074],[0.569,0.091],[0.583,0.105],[0.597,0.115],[0.61,0.173],[0.622,0.137],[0.638,0.163],[0.659,0.173],[0.68,0.205],[0.693,0.244],[0.707,0.37],[0.72,0.49],[0.735,0.33],[0.75,0.33],[0.762,0.49]];

const nena_jas_rcm4 = [[0,0.0126],[0.017,0.0123],[0.048,0.0129],[0.078,0.0139],[0.10,0.0142],[0.14,0.0156],[0.17,0.019],[0.20,0.0226],[0.232,0.0248],[0.255,0.0239],[0.278,0.0269],[0.30,0.026],[0.316,0.0285],[0.331,0.032],[0.347,0.0368],[0.362,0.0404],[0.377,0.0465],[0.40,0.051],[0.416,0.056],[0.439,0.068],[0.455,0.097],[0.47,0.129],[0.485,0.205],[0.50,0.37],[0.512,0.49],[0.53,0.49]];
const nena_jas_esm2 = [[0,0.0134],[0.063,0.015],[0.109,0.0169],[0.155,0.020],[0.178,0.022],[0.193,0.0213],[0.216,0.0248],[0.232,0.020],[0.255,0.0213],[0.27,0.0196],[0.293,0.0183],[0.324,0.0226],[0.354,0.0269],[0.385,0.030],[0.40,0.035],[0.431,0.0428],[0.446,0.0454],[0.462,0.054],[0.469,0.064],[0.478,0.051],[0.485,0.0254],[0.495,0.029],[0.505,0.034],[0.515,0.0454],[0.531,0.051],[0.546,0.064],[0.561,0.077],[0.577,0.091],[0.587,0.194],[0.60,0.194],[0.607,0.33],[0.63,0.33],[0.636,1.0],[0.664,1.0]];
const nena_jas_cesm = [[0,0.0137],[0.048,0.015],[0.094,0.0169],[0.14,0.0196],[0.17,0.0226],[0.20,0.026],[0.232,0.0292],[0.262,0.0339],[0.278,0.0327],[0.293,0.036],[0.316,0.0404],[0.331,0.038],[0.354,0.0428],[0.37,0.0454],[0.385,0.051],[0.416,0.052],[0.439,0.057],[0.454,0.0705],[0.469,0.077],[0.48,0.097],[0.49,0.122],[0.50,0.129],[0.51,0.115],[0.518,0.132],[0.525,0.102],[0.535,0.051],[0.548,0.063]];
const nena_jas_black = [[0.485,0.0254],[0.495,0.029],[0.505,0.034]];

const nena_ond_rcm4 = [[0,0.019],[0.061,0.0213],[0.123,0.0239],[0.17,0.0269],[0.20,0.030],[0.215,0.032],[0.245,0.030],[0.276,0.031],[0.307,0.034],[0.337,0.0368],[0.368,0.0404],[0.40,0.048],[0.43,0.056],[0.46,0.066],[0.475,0.0705],[0.49,0.0705],[0.514,0.081],[0.537,0.097],[0.552,0.108],[0.575,0.129],[0.598,0.14],[0.613,0.137],[0.629,0.122],[0.641,0.091],[0.656,0.074],[0.667,0.081],[0.683,0.108],[0.698,0.137],[0.713,0.173],[0.729,0.194],[0.744,0.173],[0.755,0.183],[0.767,0.205],[0.782,0.244],[0.794,0.29],[0.805,0.33],[0.82,0.33]];
const nena_ond_esm2 = [[0,0.0159],[0.046,0.0169],[0.092,0.019],[0.138,0.0213],[0.184,0.0239],[0.215,0.0254],[0.245,0.0269],[0.276,0.0285],[0.307,0.030],[0.337,0.034],[0.368,0.0368],[0.40,0.0413],[0.43,0.0454],[0.46,0.052],[0.49,0.057],[0.52,0.066],[0.544,0.077],[0.56,0.086],[0.575,0.091],[0.59,0.108],[0.606,0.122],[0.621,0.129],[0.636,0.115],[0.647,0.093],[0.66,0.091],[0.672,0.108],[0.683,0.129],[0.698,0.154],[0.713,0.21],[0.721,0.275],[0.733,0.26],[0.744,0.194],[0.755,0.218],[0.767,0.29],[0.775,0.49]];
const nena_ond_cesm = [[0,0.0163],[0.031,0.0169],[0.061,0.0169],[0.092,0.0179],[0.123,0.0196],[0.17,0.0226],[0.20,0.0254],[0.23,0.0292],[0.245,0.032],[0.26,0.034],[0.276,0.036],[0.30,0.0368],[0.314,0.0454],[0.33,0.057],[0.345,0.068],[0.36,0.077],[0.376,0.086],[0.391,0.10],[0.40,0.108],[0.411,0.115],[0.422,0.102],[0.433,0.129],[0.445,0.122],[0.452,0.102],[0.463,0.129],[0.475,0.108],[0.483,0.097]];

// panel grid [row][col] -> [CanRCM4, CanESM2, CESM]
const panelSeries = [
	[[swna_jfm_rcm4, swna_jfm_esm2, swna_jfm_cesm], [swna_amj_rcm4, swna_amj_esm2, swna_amj_cesm], [swna_jas_rcm4, swna_jas_esm2, swna_jas_cesm], [swna_ond_rcm4, swna_ond_esm2, swna_ond_cesm]],
	[[scna_jfm_rcm4, scna_jfm_esm2, scna_jfm_cesm], [scna_amj_rcm4, scna_amj_esm2, scna_amj_cesm], [scna_jas_rcm4, scna_jas_esm2, scna_jas_cesm], [scna_ond_rcm4, scna_ond_esm2, scna_ond_cesm]],
	[[sena_jfm_rcm4, sena_jfm_esm2, sena_jfm_cesm], [sena_amj_rcm4, sena_amj_esm2, sena_amj_cesm], [sena_jas_rcm4, sena_jas_esm2, sena_jas_cesm], [sena_ond_rcm4, sena_ond_esm2, sena_ond_cesm]],
	[[nwna_jfm_rcm4, nwna_jfm_esm2, nwna_jfm_cesm], [nwna_amj_rcm4, nwna_amj_esm2, nwna_amj_cesm], [nwna_jas_rcm4, nwna_jas_esm2, nwna_jas_cesm], [nwna_ond_rcm4, nwna_ond_esm2, nwna_ond_cesm]],
	[[ncna_jfm_rcm4, ncna_jfm_esm2, ncna_jfm_cesm], [ncna_amj_rcm4, ncna_amj_esm2, ncna_amj_cesm], [ncna_jas_rcm4, ncna_jas_esm2, ncna_jas_cesm], [ncna_ond_rcm4, ncna_ond_esm2, ncna_ond_cesm]],
	[[nena_jfm_rcm4, nena_jfm_esm2, nena_jfm_cesm], [nena_amj_rcm4, nena_amj_esm2, nena_amj_cesm], [nena_jas_rcm4, nena_jas_esm2, nena_jas_cesm], [nena_ond_rcm4, nena_ond_esm2, nena_ond_cesm]]
];

// black pieces: [row, col, points]
const blackPieces = [
	[1, 3, scna_ond_black],
	[2, 2, sena_jas_black],
	[4, 2, ncna_jas_black],
	[5, 0, nena_jfm_black],
	[5, 2, nena_jas_black]
];

// ---- layout ----
const W = 1274, H = 1042;
const colLeft = [71, 354, 637, 920];
const rowTop = [79, 232, 385, 538, 691, 845];
const panelW = 283, panelH = 153;
const lineW = 2.08;

const svg = d3.select('#chart');
svg.append('rect').attr('width', W).attr('height', H).attr('fill', '#fff');
svg.append('defs').append('clipPath').attr('id', 'panelClip')
	.append('rect').attr('width', panelW).attr('height', panelH);

const x = d3.scaleLinear().domain([-0.05, 1.0]).range([0, panelW]);
const y = d3.scaleLog().domain([0.006, 1.3]).range([panelH, 0]);
const line = d3.line().x(d => x(d[0])).y(d => y(d[1]));

const fmtY = d3.format('.2f');
const fmtX = d3.format('.1f');
const minorTicks = y.ticks().filter(v => !yTicks.some(t => Math.abs(v - t) / t < 1e-6));

function styleAxis(sel, size) {
	sel.select('.domain').remove();
	sel.attr('font-family', '"DejaVu Sans", sans-serif').attr('font-size', 13.9);
	sel.selectAll('.tick line').attr('stroke', '#000').attr('stroke-width', size);
	sel.selectAll('.tick text').attr('fill', '#000');
}

regions.forEach((reg, r) => {
	seasons.forEach((sea, c) => {
		const g = svg.append('g').attr('transform', `translate(${colLeft[c]},${rowTop[r]})`);
		const plot = g.append('g').attr('clip-path', 'url(#panelClip)');

		refLevels.forEach(v => {
			plot.append('line')
				.attr('x1', 0).attr('x2', panelW)
				.attr('y1', y(v)).attr('y2', y(v))
				.attr('stroke', 'grey').attr('stroke-width', lineW)
				.attr('stroke-dasharray', '7.7,3.3');
		});

		panelSeries[r][c].forEach((s, i) => {
			plot.append('path').datum(s)
				.attr('d', line)
				.attr('fill', 'none')
				.attr('stroke', modelColors[i])
				.attr('stroke-width', lineW)
				.attr('stroke-linejoin', 'round');
		});

		blackPieces.filter(b => b[0] === r && b[1] === c).forEach(b => {
			plot.append('path').datum(b[2])
				.attr('d', line)
				.attr('fill', 'none')
				.attr('stroke', 'black')
				.attr('stroke-width', lineW)
				.attr('stroke-linejoin', 'round');
		});

		g.append('rect')
			.attr('width', panelW).attr('height', panelH)
			.attr('fill', 'none').attr('stroke', '#000').attr('stroke-width', 1.1);

		// left y ticks (labels only in first column)
		g.append('g')
			.call(d3.axisLeft(y).tickValues(yTicks).tickSize(4.86).tickPadding(2)
				.tickFormat(c === 0 ? fmtY : () => ''))
			.call(styleAxis, 1.1);
		g.append('g')
			.call(d3.axisLeft(y).tickValues(minorTicks).tickSize(2.78).tickFormat(() => ''))
			.call(styleAxis, 0.83);

		if (c === 3) {
			g.append('g').attr('transform', `translate(${panelW},0)`)
				.call(d3.axisRight(y).tickValues(yTicks).tickSize(4.86).tickPadding(3.5).tickFormat(fmtY))
				.call(styleAxis, 1.1);
			g.append('g').attr('transform', `translate(${panelW},0)`)
				.call(d3.axisRight(y).tickValues(minorTicks).tickSize(2.78).tickFormat(() => ''))
				.call(styleAxis, 0.83);
		}

		if (r === regions.length - 1) {
			g.append('g').attr('transform', `translate(0,${panelH})`)
				.call(d3.axisBottom(x).tickValues(xTicks).tickSize(4.86).tickPadding(4.86).tickFormat(fmtX))
				.call(styleAxis, 1.1);
			g.append('text')
				.attr('x', panelW / 2).attr('y', 1037 - rowTop[r])
				.attr('text-anchor', 'middle').attr('font-size', 16.7)
				.text('SST Pattern Index');
		}

		if (r === 0) {
			g.append('text')
				.attr('x', panelW / 2).attr('y', 72 - rowTop[0])
				.attr('text-anchor', 'middle').attr('font-size', 22.2)
				.text(sea);
		}
	});

	const cy = rowTop[r] + panelH / 2;
	svg.append('text')
		.attr('transform', `translate(26,${cy}) rotate(-90)`)
		.attr('text-anchor', 'middle').attr('font-size', 16.7)
		.text(reg);
	svg.append('text')
		.attr('transform', `translate(1262,${cy}) rotate(-90)`)
		.attr('text-anchor', 'middle').attr('font-size', 16.7)
		.text(reg);
});

// title
svg.append('text')
	.attr('x', 619).attr('y', 24.5)
	.attr('text-anchor', 'middle').attr('font-size', 22.2)
	.text('Predictability for Wind Flood');

// legend (center left of first panel)
const legFont = 11.57;
const legRowH = 19.3;
const legBox = { x: 76.8, y: 124.9, w: 99, h: 61.3 };
const leg = svg.append('g');
leg.append('rect')
	.attr('x', legBox.x).attr('y', legBox.y)
	.attr('width', legBox.w).attr('height', legBox.h)
	.attr('rx', 2.5).attr('ry', 2.5)
	.attr('fill', 'white').attr('fill-opacity', 0.8)
	.attr('stroke', '#cccccc').attr('stroke-width', 1.1);
models.forEach((m, i) => {
	const cy = legBox.y + 4.6 + 6.75 + i * legRowH;
	leg.append('line')
		.attr('x1', 81.4).attr('x2', 104.5)
		.attr('y1', cy).attr('y2', cy)
		.attr('stroke', modelColors[i]).attr('stroke-width', lineW);
	leg.append('text')
		.attr('x', 113.8).attr('y', cy).attr('dy', '0.36em')
		.attr('font-size', legFont)
		.text(m);
});

</script>
</body>
</html>
